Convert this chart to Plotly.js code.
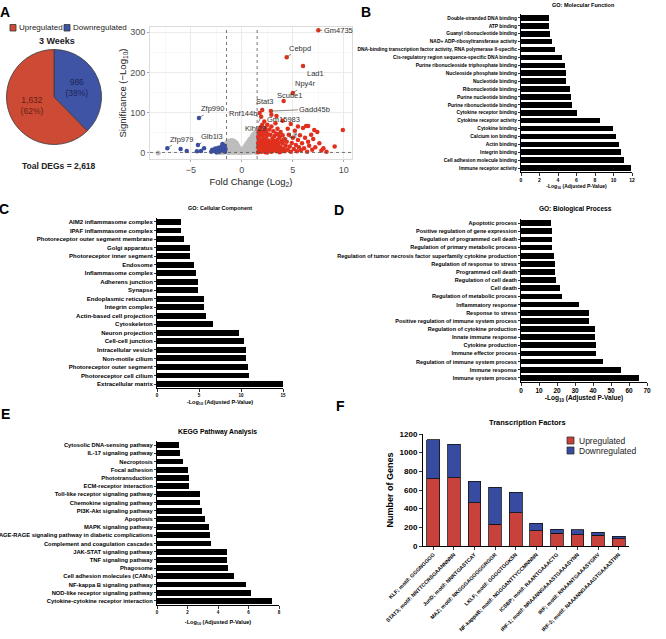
<!DOCTYPE html>
<html><head><meta charset="utf-8">
<script src="https://cdn.plot.ly/plotly-3.0.1.min.js"></script>
<style>html,body{margin:0;padding:0;background:#fff}#chart{width:666px;height:639px}</style>
</head><body><div id="chart"></div>
<script>
// ---------------- DATA ----------------
// Panel A: pie
const pieLabels = ['Downregulated', 'Upregulated'];
const pieValues = [986, 1632];
const pieText = ['986<br>(38%)', '1,632<br>(62%)'];

// Panel A: volcano points [log2FC, -log10 p]
const upPts = [[1.6,2],[1.7,5],[1.8,9],[1.9,3],[2.0,12],[2.1,6],[2.2,18],[2.3,2],[2.4,8],[2.5,14],[2.6,4],[2.7,22],[2.8,10],[2.9,3],[3.0,16],[3.1,7],[3.2,26],[3.3,12],[3.4,4],[3.5,19],[3.6,9],[3.7,2],[3.8,14],[3.9,6],[4.0,24],
[1.6,14],[1.7,22],[1.8,30],[1.9,17],[2.0,26],[2.1,35],[2.2,28],[2.3,11],[2.4,40],[2.5,24],[2.6,31],[2.7,15],[2.8,45],[2.9,27],[3.0,36],[3.1,20],[3.2,42],[3.3,30],[3.4,48],[3.5,33],[3.6,25],[3.7,38],[3.8,52],[3.9,29],[4.0,44],
[1.6,40],[1.65,52],[1.7,34],[1.75,58],[1.8,45],[1.85,64],[1.9,50],[2.0,42],[2.1,55],[2.2,48],[2.3,62],[2.4,53],[2.5,70],[2.6,46],[2.7,58],[2.9,66],[3.1,54],[3.3,74],[3.5,60],[3.6,45],
[1.6,25],[1.7,12],[1.8,20],[2.0,4],[2.1,24],[2.2,8],[2.3,32],[2.4,20],[2.5,1],[2.6,13],[2.7,6],[2.8,26],[2.9,16],[3.0,5],[3.1,30],[3.3,21],[3.4,14],[3.5,6],[3.7,16],[3.8,3],[4.1,11],[4.2,4],[4.3,18],
[4.2,35],[4.4,28],[4.5,8],[4.6,45],[4.7,16],[4.8,3],[4.9,25],[5.0,38],[5.1,10],[5.2,55],[5.3,20],[5.4,4],[5.5,32],[5.6,14],[5.7,44],[5.8,7],[5.9,24],[6.0,62],[6.1,12],[6.2,38],[6.3,67],[6.4,3],[6.5,28],[6.6,18],[6.8,45],[6.9,8],[7.0,35],[7.1,57],[7.2,14],[7.4,52],[7.6,24],[7.8,6],[8.0,12],[8.3,3],[9.1,16],[9.9,57],[6.5,67],[4.5,60],[4.8,72],[5.5,66],[4.0,80],[3.4,92],[2.2,78],[2.0,70]];
const downPts = [[-6.0,10],[-5.4,5],[-4.4,4],[-4.0,5],[-3.7,12],[-2.9,8],[-2.7,5],[-2.6,11],[-2.4,7],[-2.3,13],[-2.1,9],[-2.0,16],[-1.9,6],[-1.8,12],[-1.7,18],[-1.6,10],[-1.65,3],[-2.2,3],[-1.9,22],[-3.0,3],[-2.5,2],[-1.75,14]];
const nsPts = [[-2.4,1],[-2.3,3],[-2.2,2],[-2.1,5],[-2.0,1],[-2.0,8],[-1.9,4],[-1.9,11],[-1.8,2],[-1.8,14],[-1.7,7],[-1.7,18],[-1.6,3],[-1.6,12],[-1.6,21],[-1.5,6],[-1.5,16],[-1.5,24],[-1.4,2],[-1.4,10],[-1.4,19],[-1.4,27],[-1.3,5],[-1.3,14],[-1.3,23],[-1.3,29],[-1.2,1],[-1.2,9],[-1.2,18],[-1.2,26],[-1.1,4],[-1.1,13],[-1.1,22],[-1.1,30],[-1.0,7],[-1.0,16],[-1.0,25],[-1.0,31],[-0.9,2],[-0.9,11],[-0.9,20],[-0.9,28],[-0.8,5],[-0.8,14],[-0.8,23],[-0.8,30],[-0.7,1],[-0.7,9],[-0.7,18],[-0.7,27],[-0.6,4],[-0.6,12],[-0.6,21],[-0.6,26],[-0.5,7],[-0.5,15],[-0.5,23],[-0.4,2],[-0.4,10],[-0.4,18],[-0.3,5],[-0.3,13],[-0.2,1],[-0.2,9],[-0.1,4],[-0.1,7],[0.0,2],[0.0,6],[0.1,3],[0.1,8],[0.2,1],[0.2,6],[0.2,11],[0.3,4],[0.3,10],[0.3,15],[0.4,2],[0.4,8],[0.4,14],[0.4,19],[0.5,5],[0.5,12],[0.5,18],[0.5,23],[0.6,1],[0.6,9],[0.6,16],[0.6,22],[0.6,26],[0.7,4],[0.7,11],[0.7,19],[0.7,25],[0.7,30],[0.8,7],[0.8,15],[0.8,23],[0.8,30],[0.8,34],[0.9,2],[0.9,10],[0.9,18],[0.9,27],[0.9,35],[1.0,5],[1.0,13],[1.0,22],[1.0,31],[1.0,40],[1.1,8],[1.1,17],[1.1,26],[1.1,35],[1.1,44],[1.2,3],[1.2,12],[1.2,21],[1.2,30],[1.2,39],[1.2,47],[1.3,6],[1.3,15],[1.3,25],[1.3,34],[1.3,43],[1.3,49],[1.4,1],[1.4,10],[1.4,20],[1.4,29],[1.4,38],[1.4,45],[-8.2,0]];
const geneNames = ['Gm4735','Cebpd','Lad1','Npy4r','Scube1','Stat3','Gadd45b','Rnf144b','Gm15983','Klhl29','Lif','Zfp990','Glb1l3','Zfp979'];
const geneFC    = [7.5, 4.4, 6.0, 5.0, 4.1, 2.0, 2.85, 1.75, 2.9, 1.9, 4.1, -4.2, -4.3, -7.3];
const geneSig   = [305, 238, 216, 149, 129, 107, 104, 99, 95, 90, 32, 87, 20, 12];
const fcThresh = 1.5, sigThresh = 1.3;

// Panel B: GO Molecular Function
const mfTerms = ['Double-stranded DNA binding','ATP binding','Guanyl ribonucleotide binding','NAD+ ADP-ribosyltransferase activity','DNA-binding transcription factor activity, RNA polymerase II-specific','Cis-regulatory region sequence-specific DNA binding','Purine ribonucleoside triphosphate binding','Nucleoside phosphate binding','Nucleotide binding','Ribonucleotide binding','Purine nucleotide binding','Purine ribonucleotide binding','Cytokine receptor binding','Cytokine receptor activity','Cytokine binding','Calcium ion binding','Actin binding','Integrin binding','Cell adhesion molecule binding','Immune receptor activity'];
const mfValues = [3.0,3.06,3.13,3.35,3.64,4.4,4.76,4.83,4.83,5.33,5.37,5.48,6.02,8.58,9.9,10.27,10.63,10.85,11.14,11.85];

// Panel C: GO Cellular Component
const ccTerms = ['AIM2 inflammasome complex','IPAF inflammasome complex','Photoreceptor outer segment membrane','Golgi apparatus','Photoreceptor inner segment','Endosome','Inflammasome complex','Adherens junction','Synapse','Endoplasmic reticulum','Integrin complex','Actin-based cell projection','Cytoskeleton','Neuron projection','Cell-cell junction','Intracellular vesicle','Non-motile cilium','Photoreceptor outer segment','Photoreceptor cell cilium','Extracellular matrix'];
const ccValues = [2.8,2.8,3.2,3.9,3.95,4.45,4.7,4.85,4.85,5.6,5.65,5.8,6.65,9.8,10.4,10.6,10.6,10.8,11.0,15.0];

// Panel D: GO Biological Process
const bpTerms = ['Apoptotic process','Positive regulation of gene expression','Regulation of programmed cell death','Regulation of primary metabolic process','Regulation of tumor necrosis factor superfamily cytokine production','Regulation of response to stress','Programmed cell death','Regulation of cell death','Cell death','Regulation of metabolic process','Inflammatory response','Response to stress','Positive regulation of immune system process','Regulation of cytokine production','Innate immune response','Cytokine production','Immune effector process','Regulation of immune system process','Immune response','Immune system process'];
const bpValues = [16.8,17.1,17.1,17.3,18.4,18.8,18.8,19.3,21.5,22.5,32.0,37.6,37.9,41.2,41.2,41.8,41.8,45.3,55.8,65.4];

// Panel E: KEGG
const keggTerms = ['Cytosolic DNA-sensing pathway','IL-17 signaling pathway','Necroptosis','Focal adhesion','Phototransduction','ECM-receptor interaction','Toll-like receptor signaling pathway','Chemokine signaling pathway','PI3K-Akt signaling pathway','Apoptosis','MAPK signaling pathway','AGE-RAGE signaling pathway in diabetic complications','Complement and coagulation cascades','JAK-STAT signaling pathway','TNF signaling pathway','Phagosome','Cell adhesion molecules (CAMs)','NF-kappa B signaling pathway','NOD-like receptor signaling pathway','Cytokine-cytokine receptor interaction'];
const keggValues = [1.46,1.53,1.73,2.01,2.08,2.08,2.84,2.84,2.97,3.13,3.43,3.5,3.56,4.57,4.57,4.68,5.07,5.86,6.14,7.52];

// Panel F: Transcription factors
const tfNames = ['KLF; motif: GGGNGGGG','STAT3; motif: NNTTCCRSGAANNNNN','JunD; motif: NNRTGASTCAY','MAZ; motif: NKGGGAGGGGGRGGR','LKLF; motif: GGGGTGGKSN','NF-kappaB; motif: NGGGANTTYCCMNNNN','ICSBP; motif: RAARTGAAACTG','IRF-1; motif: NRAANNGAAASTGAAASYNN','IRF; motif: RRAANTGAAASYGRV','IRF-2; motif: NAAANNGAAAGTGAAASTRN'];
const tfUp   = [718, 732, 464, 232, 357, 161, 139, 118, 114, 79];
const tfDown = [418, 357, 232, 397, 218, 85, 43, 57, 32, 25];

// ---------------- STYLE / LAYOUT ----------------
const W = 666, H = 639;
const fx = p => p / W, fy = p => 1 - p / H;
const FONT = '"Liberation Sans", Arial, Helvetica, sans-serif';
const RED = '#cd4a35', BLUE = '#4054a6';
const BAR_RED = '#c8413a', BAR_BLUE = '#374ba0';

function bf(size, color) { return {family: FONT, size: size, color: color || '#000', weight: 'bold'}; }

function hx(domPx, range, dtick, tickSize, titleSize, standoff, anchor) {
  return {domain: [fx(domPx[0]), fx(domPx[1])], range: range, dtick: dtick, tick0: 0, anchor: anchor,
    showline: true, linecolor: '#000', linewidth: 1, ticks: 'outside', ticklen: 2.5, tickwidth: 0.8, tickcolor: '#000',
    showgrid: false, zeroline: false, automargin: false, fixedrange: true, tickfont: bf(tickSize),
    title: {text: '-Log<sub>10</sub> (Adjusted P-Value)', font: bf(titleSize), standoff: standoff}};
}
function hy(domPx, tickSize, anchor) {
  return {domain: [fy(domPx[1]), fy(domPx[0])], type: 'category', autorange: 'reversed', anchor: anchor,
    showline: true, linecolor: '#000', linewidth: 1, ticks: 'outside', ticklen: 2, tickwidth: 0.8, tickcolor: '#000',
    showgrid: false, zeroline: false, automargin: false, fixedrange: true, tickfont: bf(tickSize)};
}
function hbar(terms, vals, xa, ya) {
  return {type: 'bar', orientation: 'h', x: vals, y: terms, xaxis: xa, yaxis: ya, width: 0.7,
    marker: {color: '#000', line: {width: 0}}, showlegend: false, hoverinfo: 'skip'};
}

const traces = [];
traces.push({type: 'pie', labels: pieLabels, values: pieValues, text: pieText, textinfo: 'text',
  textposition: 'inside', insidetextorientation: 'horizontal', sort: false, direction: 'clockwise', rotation: 0,
  marker: {colors: [BLUE, RED], line: {color: '#3a3a3a', width: 0.8}},
  insidetextfont: {family: FONT, size: 8.5, color: ['rgba(20,25,70,0.85)', 'rgba(70,20,12,0.8)']},
  domain: {x: [fx(6.5), fx(101.5)], y: [fy(144.5), fy(49.5)]}, showlegend: false, hoverinfo: 'skip'});

const mk = (pts, color, size) => ({type: 'scatter', mode: 'markers', x: pts.map(p => p[0]), y: pts.map(p => p[1]),
  xaxis: 'x', yaxis: 'y', marker: {color: color, size: size, line: {width: 0}}, showlegend: false, hoverinfo: 'skip'});
traces.push(mk(nsPts, '#bdbdbd', 5));
traces.push(mk(downPts, '#3b4fa0', 4.5));
traces.push(mk(upPts, '#e0301e', 4.5));
traces.push({type: 'scatter', mode: 'markers', x: geneFC, y: geneSig, xaxis: 'x', yaxis: 'y',
  marker: {color: geneFC.map(v => v > 0 ? '#d9341f' : '#3b4fa0'), size: 4.5}, showlegend: false, hoverinfo: 'skip'});

traces.push(hbar(mfTerms, mfValues, 'x2', 'y2'));
traces.push(hbar(ccTerms, ccValues, 'x3', 'y3'));
traces.push(hbar(bpTerms, bpValues, 'x4', 'y4'));
traces.push(hbar(keggTerms, keggValues, 'x5', 'y5'));

traces.push({type: 'bar', x: tfNames, y: tfUp, xaxis: 'x6', yaxis: 'y6', width: 0.62,
  marker: {color: BAR_RED, line: {color: '#111', width: 0.8}}, showlegend: false, hoverinfo: 'skip'});
traces.push({type: 'bar', x: tfNames, y: tfDown, xaxis: 'x6', yaxis: 'y6', width: 0.62,
  marker: {color: BAR_BLUE, line: {color: '#111', width: 0.8}}, showlegend: false, hoverinfo: 'skip'});

// gene label offsets (pixels)
const labelAx = [20, 13, 12, 13, 6, 3, 44, -17, 12, -6, 10, 14, 14, 14];
const labelAy = [0, -9, 7, -9, -6, -8, -2, 0, 5, 12, -5, -9, -8, -9];

const ann = [];
geneNames.forEach((g, i) => ann.push({xref: 'x', yref: 'y', x: geneFC[i], y: geneSig[i], ax: labelAx[i], ay: labelAy[i],
  text: g, showarrow: true, arrowhead: 0, arrowwidth: 0.7, arrowcolor: '#555', standoff: 1,
  font: {family: FONT, size: 7.5, color: '#333'}}));

const pt = (x, y, text, font, extra) => Object.assign({xref: 'paper', yref: 'paper', x: fx(x), y: fy(y), text: text,
  showarrow: false, font: font, xanchor: 'center', yanchor: 'middle'}, extra || {});
// panel letters
[['A', 5, 12], ['B', 366, 12], ['C', 4, 209], ['D', 339, 210], ['E', 5, 414], ['F', 340, 406]].forEach(l =>
  ann.push(pt(l[1], l[2], l[0], {family: FONT, size: 14, color: '#000', weight: 'bold'})));
// panel A texts
ann.push(pt(17, 28, 'Upregulated', {family: FONT, size: 8, color: '#222'}, {xanchor: 'left'}));
ann.push(pt(71, 28, 'Downregulated', {family: FONT, size: 8, color: '#222'}, {xanchor: 'left'}));
ann.push(pt(57, 41, '3 Weeks', bf(9, '#222')));
ann.push(pt(59, 166, 'Toal DEGs = 2,618', bf(8.5, '#222')));
// panel titles
ann.push(pt(583, 5, 'GO: Molecular Function', bf(5.5)));
ann.push(pt(220, 208, 'GO: Cellular Component', bf(5.5)));
ann.push(pt(575, 209, 'GO: Biological Process', bf(6.5)));
ann.push(pt(217, 432, 'KEGG Pathway Analysis', bf(6.8)));
ann.push(pt(527, 422, 'Transcription Factors', bf(7.5)));
// panel F legend texts
ann.push(pt(577, 440.5, 'Upregulated', {family: FONT, size: 8.5, color: '#222'}, {xanchor: 'left'}));
ann.push(pt(577, 450.5, 'Downregulated', {family: FONT, size: 8.5, color: '#222'}, {xanchor: 'left'}));

const rect = (x0, y0, x1, y1, color) => ({type: 'rect', xref: 'paper', yref: 'paper', x0: fx(x0), x1: fx(x1), y0: fy(y1), y1: fy(y0),
  fillcolor: color, line: {color: '#333', width: 0.8}});
const shapes = [
  rect(10, 24.5, 16, 31, RED), rect(64, 24.5, 70, 31, BLUE),
  rect(567, 437, 574, 444, BAR_RED), rect(567, 447, 574, 454, BAR_BLUE),
  {type: 'line', xref: 'x', yref: 'y domain', x0: -fcThresh, x1: -fcThresh, y0: 0, y1: 1, line: {color: '#555', width: 0.8, dash: 'dot'}},
  {type: 'line', xref: 'x', yref: 'y domain', x0: fcThresh, x1: fcThresh, y0: 0, y1: 1, line: {color: '#555', width: 0.8, dash: 'dot'}},
  {type: 'line', xref: 'x domain', yref: 'y', x0: 0, x1: 1, y0: sigThresh, y1: sigThresh, line: {color: '#555', width: 0.8, dash: 'dot'}}
];

const layout = {
  width: W, height: H, margin: {l: 0, r: 0, t: 0, b: 0}, paper_bgcolor: '#fff', plot_bgcolor: '#fff',
  showlegend: false, barmode: 'stack', font: {family: FONT},
  xaxis: {domain: [fx(150), fx(352)], range: [-9, 10.8], dtick: 5, tick0: 0, anchor: 'y', showgrid: true, gridcolor: '#e6e6e6', gridwidth: 0.8,
    minor: {dtick: 2.5, showgrid: true, gridcolor: '#f3f3f3', gridwidth: 0.6}, zeroline: false, showline: true, linecolor: '#dcdcdc', mirror: true,
    ticks: 'outside', ticklen: 2, tickcolor: '#aaa', automargin: false, tickfont: {family: FONT, size: 9, color: '#4d4d4d'},
    title: {text: 'Fold Change (Log<sub>2</sub>)', font: {family: FONT, size: 9.5, color: '#222'}, standoff: 4}},
  yaxis: {domain: [fy(159), fy(27)], range: [-15, 313], dtick: 100, tick0: 0, anchor: 'x', showgrid: true, gridcolor: '#e6e6e6', gridwidth: 0.8,
    minor: {dtick: 50, showgrid: true, gridcolor: '#f3f3f3', gridwidth: 0.6}, zeroline: false, showline: true, linecolor: '#dcdcdc', mirror: true,
    ticks: 'outside', ticklen: 2, tickcolor: '#aaa', automargin: false, tickfont: {family: FONT, size: 9, color: '#4d4d4d'},
    title: {text: 'Significance (\u2212Log<sub>10</sub>)', font: {family: FONT, size: 9.5, color: '#222'}, standoff: 1}},
  xaxis2: hx([521, 632], [0, 12], 2, 5, 5, 1, 'y2'), yaxis2: hy([14, 172], 4.9, 'x2'),
  xaxis3: hx([157, 283], [0, 15], 5, 4.5, 5.5, 2, 'y3'), yaxis3: hy([217.7, 388.3], 6, 'x3'),
  xaxis4: hx([521, 647], [0, 70], 10, 6.5, 6.5, 1, 'y4'), yaxis4: hy([219, 382], 5.5, 'x4'),
  xaxis5: hx([157, 279], [0, 8], 2, 4.5, 5.5, 6, 'y5'), yaxis5: hy([441, 605], 5.8, 'x5'),
  xaxis6: {domain: [fx(423), fx(629)], anchor: 'y6', type: 'category', showline: true, linecolor: '#000', linewidth: 1,
    ticks: 'outside', ticklen: 2.5, tickwidth: 0.8, tickcolor: '#000', tickangle: -45, showgrid: false, zeroline: false,
    automargin: false, tickfont: bf(5.3)},
  yaxis6: {domain: [fy(546), fy(434)], anchor: 'x6', range: [0, 1200], dtick: 200, tick0: 0, showline: true, linecolor: '#000', linewidth: 1,
    ticks: 'outside', ticklen: 3, tickwidth: 0.8, tickcolor: '#000', showgrid: false, zeroline: false, automargin: false,
    tickfont: bf(8), title: {text: 'Number of Genes', font: bf(9), standoff: 4}},
  annotations: ann, shapes: shapes
};

Plotly.newPlot('chart', traces, layout, {staticPlot: true, displayModeBar: false});
</script></body></html>
